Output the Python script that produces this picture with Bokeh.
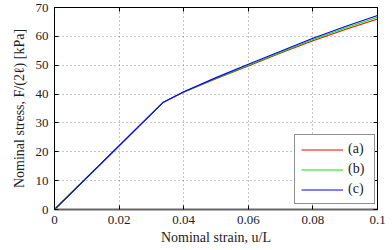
from bokeh.plotting import figure
from bokeh.models import Range1d, LinearAxis, FixedTicker, Legend, LegendItem
from bokeh.embed import file_html
from bokeh.resources import INLINE

strain = [0.0, 0.0337, 0.04, 0.05, 0.06, 0.07, 0.08, 0.09, 0.10]
stress_a = [0.0, 37.2, 40.6, 45.3, 49.7, 54.2, 58.45, 62.4, 66.0]
stress_b = [0.0, 37.2, 40.7, 45.5, 50.0, 54.5, 58.9, 62.9, 66.6]
stress_c = [0.0, 37.2, 40.8, 45.7, 50.3, 54.8, 59.35, 63.4, 67.2]
labels = ["(a)", "(b)", "(c)"]
colors = ["#ff0000", "#00ee00", "#0000ff"]

x_ticks = [0.0, 0.02, 0.04, 0.06, 0.08, 0.1]
x_tick_labels = ["0", "0.02", "0.04", "0.06", "0.08", "0.1"]
y_ticks = [0, 10, 20, 30, 40, 50, 60, 70]
y_tick_labels = ["0", "10", "20", "30", "40", "50", "60", "70"]

FONT = "'Liberation Serif', serif"

p = figure(width=392, height=250, output_backend="svg", toolbar_location=None,
           x_range=Range1d(0, 0.1), y_range=Range1d(0, 70),
           min_border_left=54, min_border_right=15, min_border_top=7, min_border_bottom=41)
p.background_fill_color = "white"
p.border_fill_color = "white"
p.outline_line_color = "black"
p.outline_line_width = 1

renderers = []
for ys, c in zip([stress_a, stress_b, stress_c], colors):
    r = p.line(strain, ys, line_color=c, line_width=1.1)
    renderers.append(r)

for ax in [p.xaxis[0], p.yaxis[0]]:
    ax.major_tick_in = 4
    ax.major_tick_out = 0
    ax.minor_tick_line_color = None
    ax.major_label_text_font = FONT
    ax.major_label_text_font_size = "13px"
    ax.major_label_text_color = "#222"
    ax.axis_label_text_font = FONT
    ax.axis_label_text_font_size = "14px"
    ax.axis_label_text_font_style = "normal"
    ax.axis_label_text_color = "#222"
    ax.axis_line_color = "black"
    ax.major_tick_line_color = "black"

p.xaxis[0].ticker = FixedTicker(ticks=x_ticks)
p.xaxis[0].major_label_overrides = dict(zip(x_ticks, x_tick_labels))
p.yaxis[0].ticker = FixedTicker(ticks=y_ticks)
p.yaxis[0].major_label_overrides = dict(zip(y_ticks, y_tick_labels))
p.xaxis[0].axis_label = "Nominal strain, u/L"
p.yaxis[0].axis_label = "Nominal stress, F/(2\u2113) [kPa]"
p.xaxis[0].major_label_standoff = 6
p.xaxis[0].axis_label_standoff = 3
p.yaxis[0].major_label_standoff = 6
p.yaxis[0].axis_label_standoff = 6
p.xaxis[0].axis_line_color = "#666"
p.xaxis[0].axis_line_width = 2

top = LinearAxis(ticker=FixedTicker(ticks=x_ticks), major_label_text_font_size="0px",
                 major_tick_in=4, major_tick_out=0, minor_tick_line_color=None,
                 axis_line_color="black", major_label_standoff=0)
right = LinearAxis(ticker=FixedTicker(ticks=y_ticks), major_label_text_font_size="0px",
                   major_tick_in=4, major_tick_out=0, minor_tick_line_color=None,
                   axis_line_color="black", major_label_standoff=0)
top.major_label_overrides = {t: "" for t in x_ticks}
right.major_label_overrides = {t: "" for t in y_ticks}
p.add_layout(top, "above")
p.add_layout(right, "right")

p.xgrid[0].ticker = FixedTicker(ticks=x_ticks)
p.ygrid[0].ticker = FixedTicker(ticks=y_ticks)
for g in [p.xgrid[0], p.ygrid[0]]:
    g.grid_line_color = "#888"
    g.grid_line_dash = "1 3"
    g.grid_line_width = 1

legend = Legend(items=[LegendItem(label=l, renderers=[r]) for l, r in zip(labels, renderers)],
                location=(240, 5))
legend.label_text_font = FONT
legend.label_text_font_size = "14px"
legend.label_text_color = "#222"
legend.glyph_width = 42
legend.glyph_height = 15
legend.label_height = 15
legend.label_standoff = 5
legend.spacing = 4
legend.padding = 6
legend.margin = 0
legend.border_line_color = "#222"
legend.border_line_width = 1.5
legend.background_fill_color = "white"
legend.background_fill_alpha = 1
p.add_layout(legend, "center")

open("out.html", "w").write(file_html(p, INLINE))
